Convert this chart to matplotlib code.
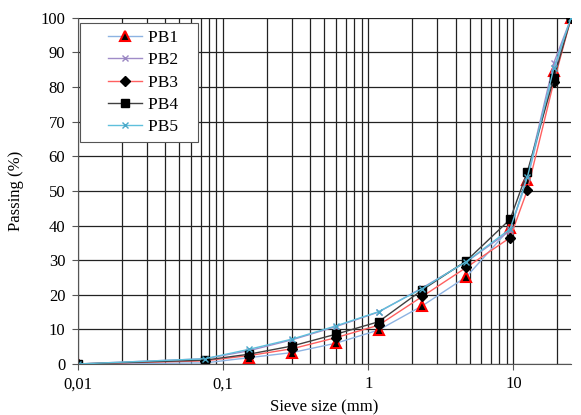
import matplotlib.pyplot as plt
from matplotlib.legend_handler import HandlerLine2D
from matplotlib.ticker import FixedLocator, NullFormatter, FixedFormatter

plt.rcParams['font.family'] = ['Liberation Serif', 'DejaVu Serif']

sieve = [0.01, 0.075, 0.15, 0.3, 0.6, 1.18, 2.36, 4.75, 9.5, 12.5, 19, 25]
pb1 = [0, 0.3, 1.8, 3.3, 6.0, 9.8, 16.8, 25.2, 39.2, 53.2, 84.5, 100]
pb2 = [0, 1.5, 3.8, 7.0, 10.8, 15.0, 22.0, 29.5, 38.5, 54.5, 87.0, 100]
pb3 = [0, 0.9, 2.4, 4.4, 7.6, 11.2, 19.5, 27.9, 36.5, 50.3, 81.5, 100]
pb4 = [0, 1.1, 2.8, 5.2, 8.6, 12.2, 21.4, 29.8, 41.8, 55.6, 82.5, 100]
pb5 = [0, 1.5, 4.2, 7.2, 11.0, 15.1, 21.8, 29.6, 39.0, 54.0, 85.5, 100]
labels = ['PB1', 'PB2', 'PB3', 'PB4', 'PB5']


class OffsetHandler(HandlerLine2D):
    # legend line only on the right part of the handle box, like Excel
    def get_xdata(self, legend, xdescent, ydescent, width, height, fontsize):
        x0 = -xdescent + 0.38 * width
        x1 = -xdescent + width
        return [x0, x1], [(x0 + x1) / 2]


fig = plt.figure(figsize=(5.81, 4.15), dpi=100)
ax = fig.add_axes([0.134, 0.123, 0.849, 0.834])

ax.plot(sieve, pb1, color='#8db3e2', lw=1, marker='^', ms=7,
        mfc='black', mec='red', mew=1.5, label=labels[0])
ax.plot(sieve, pb2, color='#a08cc8', lw=1, marker='x', ms=5,
        mec='#9a86c2', label=labels[1])
ax.plot(sieve, pb3, color='#ff6060', lw=1, marker='D', ms=5,
        mfc='black', mec='black', label=labels[2])
ax.plot(sieve, pb4, color='#404040', lw=1, marker='s', ms=6,
        mfc='black', mec='black', label=labels[3])
ax.plot(sieve, pb5, color='#5fc0dc', lw=1, marker='x', ms=5,
        mec='#4aa8c8', label=labels[4])

ax.set_xscale('log')
ax.set_xlim(0.01, 25)
ax.set_ylim(0, 100)
ax.set_yticks(range(0, 101, 10))
ax.xaxis.set_major_locator(FixedLocator([0.01, 0.1, 1, 10]))
ax.xaxis.set_major_formatter(FixedFormatter(['0,01', '0,1', '1', '10']))
minors = [m * d for d in [0.01, 0.1, 1, 10] for m in range(2, 10) if m * d <= 25]
ax.xaxis.set_minor_locator(FixedLocator(minors))
ax.xaxis.set_minor_formatter(NullFormatter())

ax.grid(True, which='both', axis='x', color='#222222', lw=0.9)
ax.grid(True, which='major', axis='y', color='#222222', lw=0.9)
ax.set_axisbelow(True)
for s in ['top', 'right']:
    ax.spines[s].set_visible(False)
ax.spines['left'].set_color('#555555')
ax.spines['bottom'].set_color('#555555')
ax.tick_params(axis='both', which='major', labelsize=12, length=4,
               color='#555555', pad=5)
ax.tick_params(axis='x', which='minor', length=0)

ax.set_xlabel('Sieve size (mm)', fontsize=12, labelpad=5)
ax.set_ylabel('Passing (%)', fontsize=12, labelpad=12)

handles, _ = ax.get_legend_handles_labels()
leg = ax.legend(handles, [l + '   ' for l in labels],
                loc='upper left', bbox_to_anchor=(0.004, 0.986), borderaxespad=0,
                fontsize=12.5, fancybox=False, edgecolor='#555555', framealpha=1,
                handlelength=3.16, handletextpad=0.35, labelspacing=0.36,
                borderpad=0.4, handler_map={h: OffsetHandler() for h in handles})
leg.get_frame().set_linewidth(0.8)

fig.savefig('out.png', dpi=100)
